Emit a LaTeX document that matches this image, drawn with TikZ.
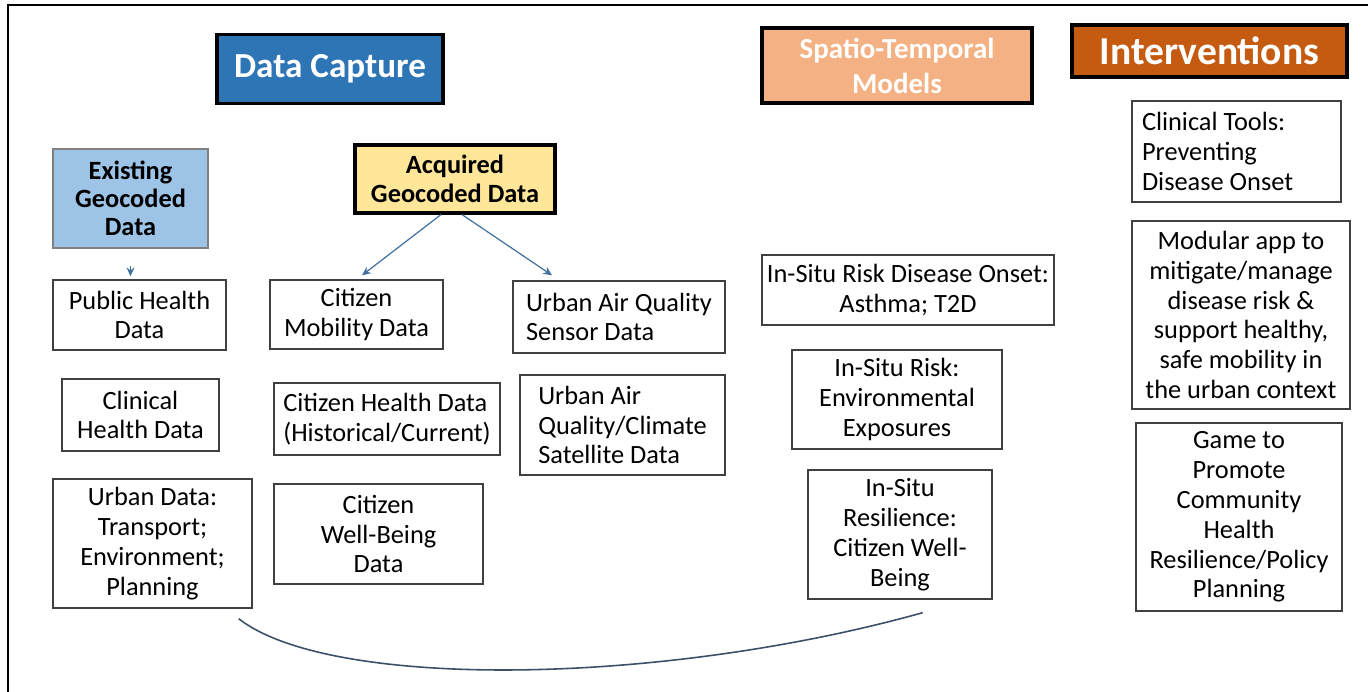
\documentclass[tikz,border=0pt]{standalone}
\usepackage{fontspec}
\setmainfont{Carlito}
\usetikzlibrary{arrows.meta}

\definecolor{capblue}{HTML}{2E75B6}
\definecolor{modpeach}{HTML}{F4B183}
\definecolor{intorange}{HTML}{C55A11}
\definecolor{geoblue}{HTML}{9DC3E6}
\definecolor{geoyellow}{HTML}{FFE699}
\definecolor{flowblue}{HTML}{41719C}
\definecolor{boxline}{HTML}{404040}
\definecolor{linkgray}{HTML}{3B5068}

\begin{document}
\begin{tikzpicture}[x=0.02cm, y=-0.02cm,
    header/.style={draw=black, line width=2.2pt, text=white, inner sep=0pt, align=center},
    box/.style={draw=boxline, line width=0.8pt, fill=white, inner sep=0pt, align=center,
                font=\fontsize{15}{17}\selectfont},
    flow/.style={draw=flowblue, line width=0.7pt, -{Stealth[length=5pt,width=4.5pt]}}]
    \useasboundingbox (0,0) rectangle (1368,692);

    % Frame
    \draw[line width=1.6pt] (8,692) -- (8,5) -- (1368,5);

    % Header boxes
    \node[header, fill=capblue, minimum width=4.52cm, minimum height=1.38cm,
          font=\bfseries\fontsize{20}{24}\selectfont] (dcap) at (330,69) {Data Capture};
    \node[header, fill=modpeach, minimum width=5.4cm, minimum height=1.5cm,
          font=\bfseries\fontsize{16.5}{20}\selectfont] (stm) at (897,65.5) {Spatio-Temporal\\Models};
    \node[header, fill=intorange, minimum width=5.5cm, minimum height=1.04cm,
          font=\bfseries\fontsize{22.5}{26}\selectfont] (intv) at (1209.5,51) {Interventions};

    % Geocoded data sources
    \node[box, draw=gray, fill=geoblue, minimum width=3.1cm, minimum height=1.98cm,
          font=\bfseries\fontsize{15}{16}\selectfont] (exist) at (130.5,198.5) {Existing\\Geocoded\\Data};
    \node[box, draw=black, line width=1.8pt, fill=geoyellow, minimum width=4cm, minimum height=1.36cm,
          font=\bfseries\fontsize{15}{16.5}\selectfont] (acq) at (455,179) {Acquired\\Geocoded Data};

    % Existing data
    \node[box, minimum width=3.46cm, minimum height=1.4cm] (pub) at (139.5,315) {Public Health\\Data};
    \node[box, minimum width=3.14cm, minimum height=1.44cm] (clin) at (140.5,415) {Clinical\\Health Data};
    \node[box, minimum width=3.98cm, minimum height=2.58cm] (urban) at (152.5,543.5)
        {Urban Data:\\Transport;\\Environment;\\Planning};

    % Acquired data
    \node[box, minimum width=3.46cm, minimum height=1.38cm] (cmob) at (356.5,314.5) {Citizen\\Mobility Data};
    \node[box, align=flush left, minimum width=4.52cm, minimum height=1.44cm] (chealth) at (387,419)
        {Citizen Health Data\\(Historical/Current)};
    \node[box, minimum width=4.18cm, minimum height=2cm] (cwell) at (378.5,534) {Citizen\\Well-Being\\Data};
    \node[box, align=flush left, minimum width=4.24cm, minimum height=1.44cm] (airsens) at (619,317)
        {Urban Air Quality\\Sensor Data};
    \node[box, align=flush left, minimum width=4.1cm, minimum height=2cm] (airsat) at (622.5,425)
        {Urban Air\\Quality/Climate\\Satellite Data};

    % Models
    \node[box, minimum width=5.84cm, minimum height=1.4cm] (onset) at (908,290)
        {In-Situ Risk Disease Onset:\\Asthma; T2D};
    \node[box, minimum width=4.2cm, minimum height=1.98cm] (expo) at (897,399.5)
        {In-Situ Risk:\\Environmental\\Exposures};
    \node[box, minimum width=3.68cm, minimum height=2.58cm] (resil) at (900,534.5)
        {In-Situ\\Resilience:\\Citizen Well-\\Being};

    % Interventions
    \node[box, align=flush left, inner xsep=0.2cm, text width=3.78cm, minimum height=2.02cm] (ctools) at (1236.5,151.5)
        {Clinical Tools:\\Preventing\\Disease Onset};
    \node[box, minimum width=4.36cm, minimum height=3.76cm] (modapp) at (1241,315)
        {Modular app to\\mitigate/manage\\disease risk \&\\support healthy,\\safe mobility in\\the urban context};
    \node[box, minimum width=4.12cm, minimum height=3.76cm] (game) at (1239,517)
        {Game to\\Promote\\Community\\Health\\Resilience/Policy\\Planning};

    % Arrows
    \draw[flow, shorten <=0.34cm, shorten >=0.06cm] (exist.south) -- (exist.south |- pub.north);
    \draw[flow] ([xshift=-0.28cm]acq.south) -- ([xshift=0.11cm, yshift=0.08cm]cmob.north);
    \draw[flow] ([xshift=0.14cm]acq.south) -- ([xshift=-1.34cm, yshift=0.1cm]airsens.north);

    % Link between data and models
    \coordinate (lstart) at ([shift={(-0.28cm,-0.2cm)}]urban.south east);
    \coordinate (lend) at ([shift={(-1.4cm,-0.26cm)}]resil.south east);
    \draw[linkgray, line width=0.9pt] (lstart) .. controls (330,690) and (660,686) .. (lend);

\end{tikzpicture}
\end{document}
